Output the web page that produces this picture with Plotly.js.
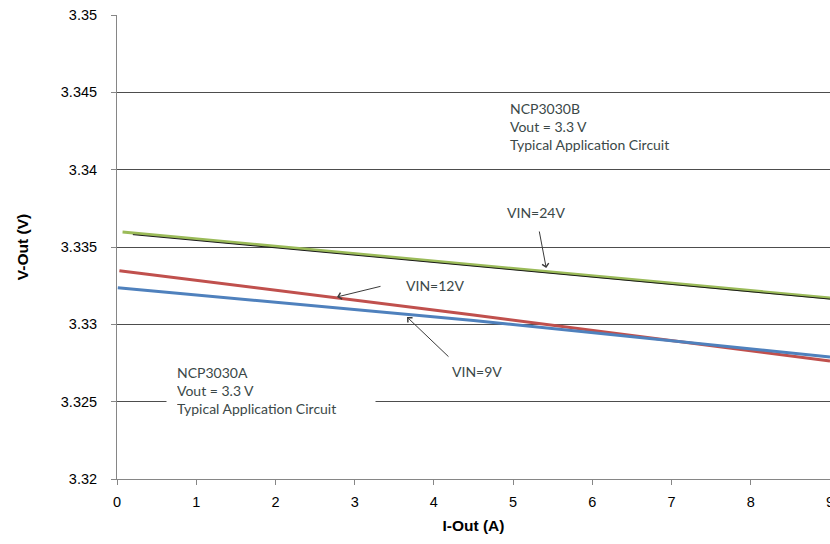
<!DOCTYPE html>
<html>
<head>
<meta charset="utf-8">
<script src="https://cdn.plot.ly/plotly-3.0.1.min.js"></script>
<style>
  html, body { margin: 0; padding: 0; background: #ffffff; overflow: hidden; }
  #chart { width: 830px; height: 544px; }
</style>
</head>
<body>
<div id="chart"></div>
<script>
// ---- data ----
const iOut24 = [0.07, 4.5, 9];
const vOut24 = [3.33597, 3.33384, 3.3317];
const iOut24b = [0.2, 4.5, 9];          // thin black curve under the green one
const vOut24b = [3.3358, 3.33375, 3.33163];
const iOut12 = [0.03, 4.5, 9];
const vOut12 = [3.33347, 3.3306, 3.32763];
const iOut9 = [0.01, 4.5, 9];
const vOut9 = [3.33237, 3.33025, 3.32789];

const xTickVals = [0, 1, 2, 3, 4, 5, 6, 7, 8, 9];
const xTickText = ['0', '1', '2', '3', '4', '5', '6', '7', '8', '9'];
const yTickVals = [3.32, 3.325, 3.33, 3.335, 3.34, 3.345, 3.35];
const yTickText = ['3.32', '3.325', '3.33', '3.335', '3.34', '3.345', '3.35'];

const noteA = ['NCP3030A', 'Vout = 3.3 V', 'Typical Application Circuit'];
const noteB = ['NCP3030B', 'Vout = 3.3 V', 'Typical Application Circuit'];

// ---- traces ----
const traces = [
  { x: iOut24, y: vOut24, name: 'VIN=24V', mode: 'lines', line: { color: '#9bbb59', width: 3 } },
  { x: iOut24b, y: vOut24b, name: 'VIN=24V (B)', mode: 'lines', line: { color: '#1a1a1a', width: 1 } },
  { x: iOut12, y: vOut12, name: 'VIN=12V', mode: 'lines', line: { color: '#c0504d', width: 3 } },
  { x: iOut9, y: vOut9, name: 'VIN=9V', mode: 'lines', line: { color: '#4f81bd', width: 3 } }
];

const noteFont = { family: 'Lato, "Open Sans", sans-serif', size: 14, color: '#3b4848' };
const arrowColor = '#3a3a3a';

function arrow(tx, ty, hx, hy) {
  return {
    x: hx, y: hy, ax: tx, ay: ty, xref: 'x', yref: 'y', axref: 'x', ayref: 'y',
    text: '', showarrow: true, arrowhead: 4, arrowsize: 1.3, arrowwidth: 1, arrowcolor: arrowColor
  };
}

const annotations = [
  { x: 0.62, y: 3.32575, xref: 'x', yref: 'y', xanchor: 'left', yanchor: 'middle',
    text: noteA.join('<br>'), showarrow: false, align: 'left', font: noteFont,
    bgcolor: '#ffffff', borderpad: 10, width: 188 },
  { x: 4.93, y: 3.3428, xref: 'x', yref: 'y', xanchor: 'left', yanchor: 'middle',
    text: noteB.join('<br>'), showarrow: false, align: 'left', font: noteFont },
  { x: 4.9, y: 3.3372, xref: 'x', yref: 'y', xanchor: 'left', yanchor: 'middle',
    text: 'VIN=24V', showarrow: false, font: noteFont },
  { x: 3.62, y: 3.33254, xref: 'x', yref: 'y', xanchor: 'left', yanchor: 'middle',
    text: 'VIN=12V', showarrow: false, font: noteFont },
  { x: 4.2, y: 3.32692, xref: 'x', yref: 'y', xanchor: 'left', yanchor: 'middle',
    text: 'VIN=9V', showarrow: false, font: noteFont },
  arrow(5.327, 3.33610, 5.418, 3.33364),
  arrow(3.345, 3.33248, 2.777, 3.33177),
  arrow(4.203, 3.32782, 3.661, 3.33047)
];

const layout = {
  width: 830, height: 544,
  margin: { l: 117, r: 0, t: 15, b: 65, pad: 0 },
  paper_bgcolor: '#ffffff', plot_bgcolor: '#ffffff',
  showlegend: false,
  font: { family: '"Liberation Sans", Arial, sans-serif', color: '#000000' },
  xaxis: {
    range: [0, 9], tickvals: xTickVals, ticktext: xTickText,
    showgrid: false, zeroline: false, showline: true, linecolor: '#868686', linewidth: 1,
    ticks: 'outside', ticklen: 5, tickcolor: '#868686', tickwidth: 1,
    tickfont: { size: 14.5, color: '#000000' }, ticklabelstandoff: 5,
    ticklabeloverflow: 'allow',
    automargin: false,
    title: { text: 'I-Out (A)', font: { size: 15.5, color: '#000000', weight: 'bold' }, standoff: 10 }
  },
  yaxis: {
    range: [3.32, 3.35], tickvals: yTickVals, ticktext: yTickText,
    showgrid: true, gridcolor: '#4d4d4d', gridwidth: 1,
    zeroline: false, showline: true, linecolor: '#868686', linewidth: 1,
    ticks: 'outside', ticklen: 5, tickcolor: '#868686', tickwidth: 1,
    tickfont: { size: 14.5, color: '#000000' }, ticklabelstandoff: 11,
    automargin: false,
    title: { text: 'V-Out (V)', font: { size: 15.5, color: '#000000', weight: 'bold' }, standoff: 28 }
  },
  annotations: annotations
};

Plotly.newPlot('chart', traces, layout, { staticPlot: true, displayModeBar: false });
</script>
</body>
</html>
